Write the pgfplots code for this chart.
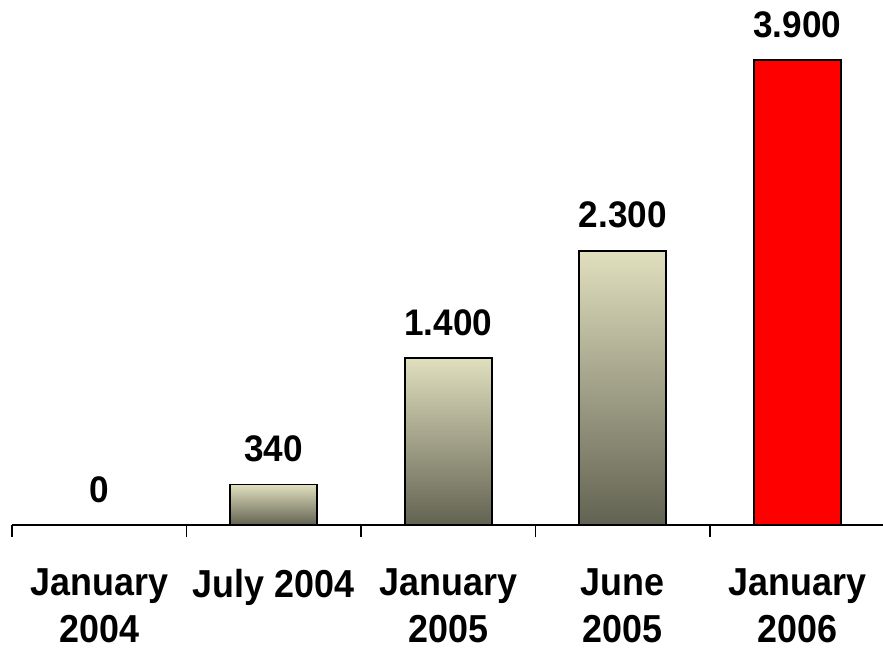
\documentclass[border=0pt]{standalone}
\usepackage{pgfplots}
\pgfplotsset{compat=1.18}
\usepackage{fontspec}
\setmainfont{Liberation Sans}
\newfontfamily\labfont[FakeStretch=0.92]{Liberation Sans}
\newfontfamily\numfont[FakeStretch=0.95]{Liberation Sans}
\definecolor{barTop}{RGB}{224,223,190}
\definecolor{barBot}{RGB}{98,98,82}
\begin{document}
\begin{tikzpicture}
\useasboundingbox (-6pt,-62.5pt) rectangle (435.5pt,262.5pt);
\begin{axis}[
  at={(0pt,0pt)}, anchor=south west,
  scale only axis, width=436.25pt, height=262.5pt,
  xmin=-0.5, xmax=4.5, ymin=0, ymax=4403,
  axis x line*=bottom, axis y line=none,
  axis line style={line width=0.8pt, black},
  xtick={0,1,2,3,4},
  xticklabels={January\\2004, July 2004, January\\2005, June\\2005, January\\2006},
  major tick length=0pt,
  minor xtick={-0.5,0.5,1.5,2.5,3.5,4.5},
  minor tick length=6pt, tick align=outside,
  tick style={line width=0.8pt, black},
  xticklabel style={font=\labfont\bfseries\fontsize{19.5}{23.5}\selectfont, align=center, yshift=-18.5pt},
  ybar, bar width=43.5pt, bar shift=0pt,
  nodes near coords,
  nodes near coords style={font=\numfont\bfseries\fontsize{18.5}{20}\selectfont, text=black, yshift=7.5pt},
  /pgf/number format/.cd, 1000 sep={.}, fixed, precision=0, assume math mode=true,
]
\addplot[draw=none, fill=none] coordinates {(0,0)};
\addplot[draw=black, line width=0.8pt, top color=barTop, bottom color=barBot] coordinates {(1,340)};
\addplot[draw=black, line width=0.8pt, top color=barTop, bottom color=barBot] coordinates {(2,1400)};
\addplot[draw=black, line width=0.8pt, top color=barTop, bottom color=barBot] coordinates {(3,2300)};
\addplot[draw=black, line width=0.8pt, fill=red] coordinates {(4,3900)};
\end{axis}
\end{tikzpicture}
\end{document}
